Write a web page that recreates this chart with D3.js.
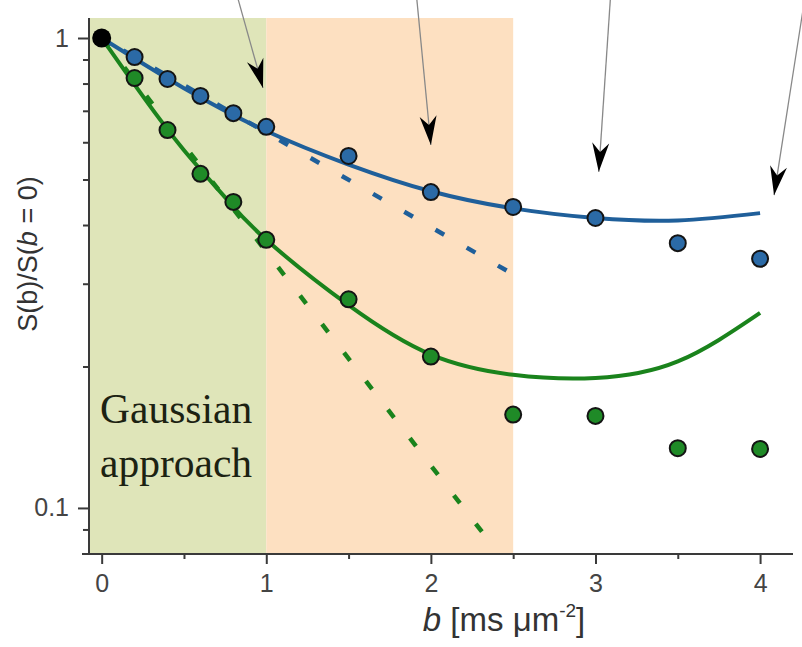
<!DOCTYPE html>
<html lang="en">
<head>
<meta charset="utf-8">
<title>Signal attenuation vs b</title>
<script src="https://cdnjs.cloudflare.com/ajax/libs/d3/7.8.5/d3.min.js"></script>
<style>
  body { margin: 0; background: #fff; }
  svg { display: block; }
  .tick text { font-family: "Liberation Sans", Arial, sans-serif; fill: #444; }
  .axis path { display: none; }
  .axis line { stroke: #3a3a3a; stroke-width: 2; }
</style>
</head>
<body>
<div id="chart"></div>
<script>
// measured points
const bValues = [0, 0.2, 0.4, 0.6, 0.8, 1, 1.5, 2, 2.5, 3, 3.5, 4];
const blueSignal  = [1, 0.911, 0.818, 0.753, 0.692, 0.647, 0.561, 0.470, 0.437, 0.414, 0.366, 0.339];
const greenSignal = [1, 0.822, 0.637, 0.514, 0.448, 0.372, 0.278, 0.210, 0.158, 0.157, 0.134, 0.1335];

// fitted curves
const bBlueFit = [0, 0.5, 1, 1.5, 2, 2.5, 3, 3.5, 4];
const blueFit  = [1, 0.782, 0.634, 0.538, 0.472, 0.434, 0.414, 0.409, 0.424];
const bGreenFit = [0, 0.25, 0.5, 0.75, 1, 1.5, 2, 2.5, 3, 3.5, 4];
const greenFit  = [1, 0.752, 0.577, 0.458, 0.372, 0.270, 0.212, 0.192, 0.189, 0.205, 0.260];

// gaussian (initial slope) lines
const bBlueGauss = [0, 2.46];
const blueGauss  = [1, 0.32];
const bGreenGauss = [0, 2.31];
const greenGauss  = [1, 0.089];

// shaded regimes
const regionStart = [-0.077, 1];
const regionEnd   = [1, 2.5];
const regionColor = ["#dfe5b9", "#fde0c1"];

// arrows pointing down from the insets
const arrowFromB = [0.83, 1.915, 3.09, 4.27];
const arrowFromS = [1.205, 1.205, 1.205, 1.205];
const arrowToB   = [0.98, 2.0, 3.02, 4.085];
const arrowToS   = [0.783, 0.592, 0.519, 0.463];

const xTicks = [0, 1, 2, 3, 4];
const xMinor = [0.5, 1.5, 2.5, 3.5];
const yTicks = [1, 0.1];
const yTickLabels = ["1", "0.1"];
const yMinor = [0.9, 0.8, 0.7, 0.6, 0.5, 0.4, 0.3, 0.2, 0.09];

const W = 802, H = 647;
const pLeft = 89, pRight = 793, pTop = 18, pBottom = 554;

const x = d3.scaleLinear().domain([-0.077, 4.2]).range([pLeft, pRight]);
const y = d3.scaleLog().domain([0.0798, 1.103]).range([pBottom, pTop]);

const svg = d3.select("#chart").append("svg")
  .attr("width", W).attr("height", H);

// background regions
svg.selectAll("rect.region")
  .data(regionStart)
  .enter().append("rect")
  .attr("class", "region")
  .attr("x", (d) => x(d))
  .attr("y", pTop)
  .attr("width", (d, i) => x(regionEnd[i]) - x(d))
  .attr("height", pBottom - pTop)
  .attr("fill", (d, i) => regionColor[i]);

const line = d3.line().x(d => x(d[0])).y(d => y(d[1]));
const zip = (a, b) => a.map((v, i) => [v, b[i]]);

// dashed gaussian lines, pattern shifted so a dash ends at the line end
const dashLen = 10, dashPeriod = 36;
function dashed(bs, ss, color) {
  const p = svg.append("path")
    .attr("d", line(zip(bs, ss)))
    .attr("stroke", color).attr("stroke-width", 4.5)
    .attr("stroke-dasharray", dashLen + "," + (dashPeriod - dashLen))
    .attr("fill", "none");
  const L = p.node().getTotalLength();
  const off = (dashPeriod - ((L - dashLen) % dashPeriod)) % dashPeriod;
  p.attr("stroke-dashoffset", off);
}
dashed(bBlueGauss, blueGauss, "#1f5f9a");
dashed(bGreenGauss, greenGauss, "#1a831c");

// fits
const curve = d3.line().x(d => x(d[0])).y(d => y(d[1])).curve(d3.curveNatural);
svg.append("path")
  .attr("d", curve(zip(bBlueFit, blueFit)))
  .attr("stroke", "#1f5f9a").attr("stroke-width", 4).attr("fill", "none");
svg.append("path")
  .attr("d", curve(zip(bGreenFit, greenFit)))
  .attr("stroke", "#1a831c").attr("stroke-width", 4).attr("fill", "none");

// points
svg.selectAll("circle.blue")
  .data(zip(bValues, blueSignal).slice(1))
  .enter().append("circle")
  .attr("cx", d => x(d[0])).attr("cy", d => y(d[1])).attr("r", 8)
  .attr("fill", "#2b6aa6").attr("stroke", "#141414").attr("stroke-width", 2);
svg.selectAll("circle.green")
  .data(zip(bValues, greenSignal).slice(1))
  .enter().append("circle")
  .attr("cx", d => x(d[0])).attr("cy", d => y(d[1])).attr("r", 8)
  .attr("fill", "#1f8a27").attr("stroke", "#141414").attr("stroke-width", 2);
svg.append("circle")
  .attr("cx", x(bValues[0])).attr("cy", y(blueSignal[0])).attr("r", 9.5)
  .attr("fill", "#000");

// axes
const gx = svg.append("g").attr("class", "axis")
  .attr("transform", "translate(0," + pBottom + ")")
  .call(d3.axisBottom(x).tickValues(xTicks).tickSize(10).tickPadding(10).tickFormat(d3.format("d")));
gx.attr("font-size", 25);
svg.append("g").attr("class", "axis")
  .attr("transform", "translate(0," + pBottom + ")")
  .call(d3.axisBottom(x).tickValues(xMinor).tickSize(5).tickFormat(""));
const gy = svg.append("g").attr("class", "axis")
  .attr("transform", "translate(" + pLeft + ",0)")
  .call(d3.axisLeft(y).tickValues(yTicks).tickSize(11).tickPadding(9)
    .tickFormat((d, i) => yTickLabels[i]));
gy.attr("font-size", 25);
svg.append("g").attr("class", "axis")
  .attr("transform", "translate(" + pLeft + ",0)")
  .call(d3.axisLeft(y).tickValues(yMinor).tickSize(6).tickFormat(""));

svg.append("line")
  .attr("x1", pLeft - 7).attr("x2", pRight)
  .attr("y1", pBottom).attr("y2", pBottom)
  .attr("stroke", "#3a3a3a").attr("stroke-width", 2);
svg.append("line")
  .attr("x1", pLeft).attr("x2", pLeft)
  .attr("y1", pTop).attr("y2", pBottom)
  .attr("stroke", "#3a3a3a").attr("stroke-width", 2);

// arrows
svg.append("defs").append("marker")
  .attr("id", "head")
  .attr("markerUnits", "userSpaceOnUse")
  .attr("viewBox", "-30 -10 32 20")
  .attr("refX", 0).attr("refY", 0)
  .attr("markerWidth", 32).attr("markerHeight", 20)
  .attr("orient", "auto")
  .append("path")
  .attr("d", "M0,0 L-29,-8.5 L-20,0 L-29,8.5 Z")
  .attr("fill", "#000");

svg.selectAll("line.arrow")
  .data(arrowFromB)
  .enter().append("line")
  .attr("class", "arrow")
  .attr("x1", d => x(d)).attr("y1", (d, i) => y(arrowFromS[i]))
  .attr("x2", (d, i) => x(arrowToB[i])).attr("y2", (d, i) => y(arrowToS[i]))
  .attr("stroke", "#888").attr("stroke-width", 1.3)
  .attr("marker-end", "url(#head)");

// regime label
const lab = svg.append("text")
  .attr("font-family", "'Liberation Serif', 'Times New Roman', serif")
  .attr("font-size", 41.5).attr("fill", "#1c2212");
lab.append("tspan").attr("x", 100).attr("y", 423).text("Gaussian");
lab.append("tspan").attr("x", 100).attr("y", 477).text("approach");

// axis titles
const xl = svg.append("text")
  .attr("x", 504).attr("y", 631)
  .attr("text-anchor", "middle")
  .attr("font-family", "'Liberation Sans', Arial, sans-serif")
  .attr("font-size", 33).attr("fill", "#333");
xl.append("tspan").attr("font-style", "italic").text("b");
xl.append("tspan").text(" [ms \u03bcm");
xl.append("tspan").attr("font-size", 19).attr("dy", -14).text("-2");
xl.append("tspan").attr("dy", 14).text("]");

const yl = svg.append("text")
  .attr("transform", "translate(37,254) rotate(-90)")
  .attr("text-anchor", "middle")
  .attr("font-family", "'Liberation Sans', Arial, sans-serif")
  .attr("font-size", 27).attr("fill", "#333");
yl.append("tspan").text("S(b)/S(");
yl.append("tspan").attr("font-style", "italic").text("b");
yl.append("tspan").text(" = 0)");
</script>
</body>
</html>
